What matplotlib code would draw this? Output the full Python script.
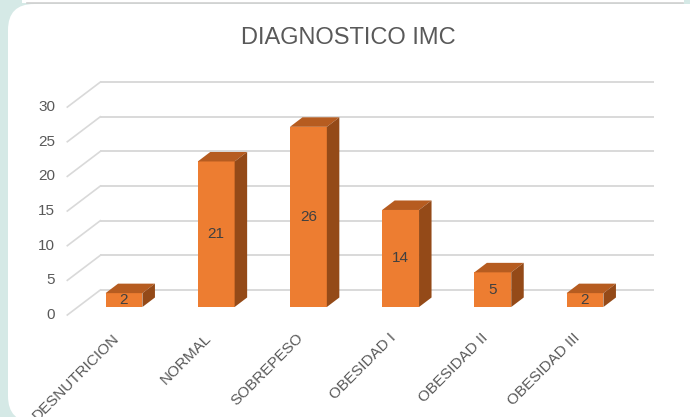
import matplotlib
matplotlib.use('Agg')
import matplotlib.pyplot as plt
from matplotlib.patches import Polygon, FancyBboxPatch, Rectangle

# ---------------- data ----------------
categories = ['DESNUTRICION', 'NORMAL', 'SOBREPESO', 'OBESIDAD I', 'OBESIDAD II', 'OBESIDAD III']
values = [2, 21, 26, 14, 5, 2]
yticks = [0, 5, 10, 15, 20, 25, 30]
title = 'DIAGNOSTICO IMC'

# ---------------- style ----------------
FONT = ['Liberation Sans', 'DejaVu Sans']
plt.rcParams['font.family'] = FONT
TXT = '#595959'
GRID = '#d9d9d9'
FRONT = '#ED7D31'
TOP = '#B65C20'
SIDE = '#944A18'
MINT = '#d5e9e6'

W, H = 690, 417
fig = plt.figure(figsize=(W / 100, H / 100), dpi=100)
fig.patch.set_facecolor(MINT)

# background card (figure pixel space)
bg = fig.add_axes([0, 0, 1, 1])
bg.set_xlim(0, W)
bg.set_ylim(H, 0)
bg.axis('off')
bg.add_patch(Rectangle((22, 0), 662, 3, fc='white', ec='none'))
bg.plot([27, 683], [2.5, 2.5], color='#cfcfcf', lw=1.2)
bg.add_patch(FancyBboxPatch((8, 4), 720, 418,
                            boxstyle='round,pad=0,rounding_size=26',
                            fc='white', ec='none'))

# chart axes: category index / value units, calibrated to the layout
X0, SX = 124.0, 92.2   # px of first bar center, px per category
Y0, SY = 307.0, 6.93   # px of value 0 on bar-front plane, px per unit
ax = fig.add_axes([0, 0, 1, 1])
ax.set_xlim(-X0 / SX, (W - X0) / SX)
ax.set_ylim((Y0 - H) / SY, Y0 / SY)
ax.axis('off')
ax.patch.set_alpha(0)

# depth offsets (px -> data units)
bar_d = (12.5 / SX, 9.5 / SY)
back_d = (22.4 / SX, 17 / SY)
front_d = (-10.6 / SX, -8 / SY)
n = len(categories)
xl, xr = -0.5, n - 0.5
bw = 0.40

# back wall gridlines and left side-wall diagonals
for v in yticks:
    ax.plot([xl + back_d[0], xr + back_d[0]], [v + back_d[1]] * 2,
            color=GRID, lw=1.4, zorder=1, solid_capstyle='butt')
    ax.plot([xl + front_d[0], xl + back_d[0]], [v + front_d[1], v + back_d[1]],
            color=GRID, lw=1.2, zorder=1)
    ax.text(xl + front_d[0] - 12 / SX, v + front_d[1], str(v),
            ha='right', va='center', fontsize=11, color=TXT)

# bars
xs = list(range(n))
ax.bar(xs, values, width=bw, color=FRONT, zorder=3, edgecolor='none')
for x, v in zip(xs, values):
    l, r = x - bw / 2, x + bw / 2
    dx, dy = bar_d
    ax.add_patch(Polygon([(l, v), (r, v), (r + dx, v + dy), (l + dx, v + dy)],
                         closed=True, fc=TOP, ec='none', zorder=3))
    ax.add_patch(Polygon([(r, 0), (r + dx, dy), (r + dx, v + dy), (r, v)],
                         closed=True, fc=SIDE, ec='none', zorder=3))
    ax.text(x, v / 2, str(v), ha='center', va='center',
            fontsize=11, color='#404040', zorder=4)

# category labels
for x, c in zip(xs, categories):
    ax.text(x - 7 / SX, -29 / SY, c, rotation=45, rotation_mode='anchor',
            ha='right', va='center', fontsize=11, color=TXT)

fig.text(348 / W, 1 - 38 / H, title, ha='center', va='center',
         fontsize=17, color=TXT)

fig.savefig('out.png', dpi=100, facecolor=fig.get_facecolor())
